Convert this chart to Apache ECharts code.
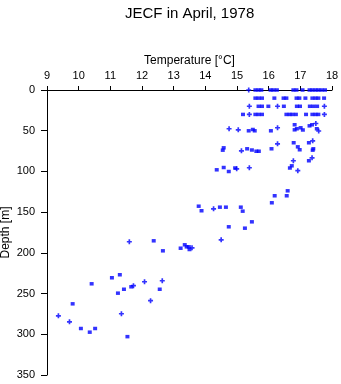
<!DOCTYPE html>
<html>
<head>
<meta charset="utf-8">
<script src="https://cdn.jsdelivr.net/npm/echarts@6/dist/echarts.min.js"></script>
<style>
html,body{margin:0;padding:0;background:#fff;}
#chart{width:341px;height:384px;}
</style>
</head>
<body>
<div id="chart"></div>
<script>
// Temperature (°C) / depth (m) observations, plotted as squares
var squarePoints = [
  [15.58,0],[15.68,0],[15.77,0],[16.06,0],[16.15,0],[16.26,0],[16.78,0],[16.88,0],[17.07,0],[17.29,0],[17.38,0],[17.48,0],[17.57,0],[17.67,0],[17.78,0],
  [15.58,10],[15.68,10],[15.79,10],[16.18,10],[16.47,10],[16.56,10],[16.88,10],[16.97,10],[17.16,10],[17.38,10],[17.48,10],[17.57,10],[17.75,10],
  [15.68,20],[15.79,20],[15.99,20],[16.48,20],[16.89,20],[16.99,20],[17.30,20],[17.41,20],[17.53,20],
  [15.19,30],[15.58,30],[15.68,30],[15.79,30],[16.56,30],[16.66,30],[16.75,30],[16.86,30],[17.18,30],[17.38,30],[17.48,30],[17.57,30],
  [15.37,50.1],[15.50,48.5],[15.56,50.1],[16.07,50.1],[16.82,42.7],[16.82,48.9],[16.89,47.6],[17.01,46.4],[17.08,49.1],[17.29,44.0],[17.37,42.7],[17.52,47.6],
  [16.79,64.8],[16.92,69.8],[16.98,73.4],[17.27,64.8],[17.41,72.2],[17.39,73.9],[14.58,71.0],[14.55,73.9],[15.32,72.2],[15.47,73.7],[15.61,75.2],[15.69,75.2],[16.09,72.2],
  [16.73,93.1],[16.67,95.8],[17.27,86.9],[14.36,98.0],[14.58,95.2],[14.74,100.1],[14.94,95.8],
  [16.60,123.8],[16.19,129.9],[16.57,129.9],[16.10,138.5],[13.79,142.7],[13.88,148.3],[14.46,143.9],[14.65,143.9],[15.12,143.9],[15.18,148.8],
  [15.47,161.9],[14.74,168.0],[15.25,169.7],[13.35,190.1],[13.41,192.6],[13.48,192.6],[13.22,194.3],[13.50,195.9],
  [12.37,185.2],[12.66,197.5],[11.30,226.9],[11.05,230.6],[10.41,238.0],[11.43,244.7],[11.24,249.5],[11.66,241.7],[12.56,244.7],
  [9.81,262.6],[10.07,292.9],[10.35,297.4],[10.52,292.9],[11.54,302.9]
];
// Observations plotted as crosses
var crossPoints = [
  [15.37,0],[15.39,20],[16.28,20],[17.76,20],[15.39,30],[17.76,30],
  [14.75,47.6],[15.04,48.9],[16.28,46.4],[17.49,41.1],[17.58,50.3],
  [16.28,66.1],[17.39,62.4],[15.14,74.7],
  [16.78,86.9],[16.92,99.1],[17.37,83.3],[14.99,96.8],[15.39,95.5],
  [14.26,145.9],[14.50,184.0],[13.58,193.8],
  [11.60,186.4],[12.08,235.5],[12.64,234.3],[11.73,240.3],[12.27,258.7],
  [11.35,274.8],[9.36,277.3],[9.71,284.7]
];
var tempTicks = {min: 9, max: 18, step: 1};
var depthTicks = {min: 0, max: 350, step: 50};

var font = '"Liberation Sans", Arial, Helvetica, sans-serif';
var chart = echarts.init(document.getElementById('chart'), null, {renderer: 'canvas'});
chart.setOption({
  animation: false,
  backgroundColor: '#ffffff',
  title: {
    text: 'JECF in April, 1978',
    left: 120, top: 1,
    textStyle: {fontFamily: font, fontSize: 15, fontWeight: 'normal', color: '#000'}
  },
  grid: {left: 47, right: 9, top: 90, bottom: 9, containLabel: false, outerBoundsMode: 'none'},
  xAxis: {
    type: 'value', position: 'top',
    min: tempTicks.min, max: tempTicks.max, interval: tempTicks.step,
    name: 'Temperature [°C]', nameLocation: 'middle', nameGap: 23, nameMoveOverlap: false,
    nameTextStyle: {fontFamily: font, fontSize: 12, color: '#000'},
    axisLine: {show: true, lineStyle: {color: '#000', width: 1}},
    axisTick: {show: true, length: 4, lineStyle: {color: '#000'}},
    axisLabel: {fontFamily: font, fontSize: 11, color: '#000', margin: 9},
    splitLine: {show: false}
  },
  yAxis: {
    type: 'value', inverse: true,
    min: depthTicks.min, max: depthTicks.max, interval: depthTicks.step,
    name: 'Depth [m]', nameLocation: 'middle', nameGap: 35, nameRotate: 90, nameMoveOverlap: false,
    nameTextStyle: {fontFamily: font, fontSize: 12, color: '#000'},
    axisLine: {show: true, lineStyle: {color: '#000', width: 1}},
    axisTick: {show: true, length: 6, lineStyle: {color: '#000'}},
    axisLabel: {fontFamily: font, fontSize: 11, color: '#000', margin: 12},
    splitLine: {show: false}
  },
  series: [
    {
      type: 'scatter', data: squarePoints,
      symbol: 'rect', symbolSize: [4, 3.5],
      itemStyle: {color: '#0000ff'}
    },
    {
      type: 'scatter', data: crossPoints,
      symbol: 'path://M1,0H2V1H3V2H2V3H1V2H0V1H1Z', symbolSize: 5,
      itemStyle: {color: '#0000ff'}
    }
  ]
});
</script>
</body>
</html>
